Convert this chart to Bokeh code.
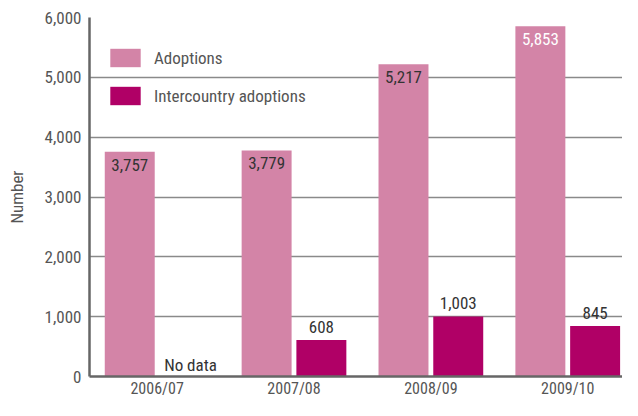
from bokeh.plotting import figure
from bokeh.models import ColumnDataSource, Legend, LegendItem, FixedTicker, NumeralTickFormatter, Range1d
from bokeh.core.properties import value
from bokeh.embed import file_html
from bokeh.resources import INLINE

years = ["2006/07", "2007/08", "2008/09", "2009/10"]
adoptions = [3757, 3779, 5217, 5853]
intercountry = [None, 608, 1003, 845]
y_ticks = [0, 1000, 2000, 3000, 4000, 5000, 6000]

FONT = "Roboto Condensed, Liberation Sans Narrow, DejaVu Sans Condensed, sans-serif"
FS = "17px"
C_ADOPT = "#D384A7"
C_INTER = "#B00066"
TEXT = "#555555"

idx = list(range(len(years)))
off = 0.2
bw = 0.365

src_a = ColumnDataSource(dict(
    x=[i - off for i in idx], top=adoptions,
    label=[f"{v:,}" for v in adoptions],
    color=["#333333" if v < max(adoptions) else "#ffffff" for v in adoptions],
))
ix = [i for i, v in zip(idx, intercountry) if v is not None]
iv = [v for v in intercountry if v is not None]
src_i = ColumnDataSource(dict(
    x=[i + off for i in ix], top=iv, label=[f"{v:,}" for v in iv],
))
nd = [i for i, v in zip(idx, intercountry) if v is None]
src_nd = ColumnDataSource(dict(x=[i + off for i in nd], y=[0] * len(nd), label=["No data"] * len(nd)))

p = figure(width=622, height=400, output_backend="svg", toolbar_location=None,
           x_range=Range1d(-0.494, 3.40), y_range=Range1d(0, 6000),
           min_border_left=89, min_border_right=0, min_border_top=17, min_border_bottom=0)
p.outline_line_color = None
p.background_fill_color = "white"
p.border_fill_color = "white"

r1 = p.vbar(x="x", top="top", width=bw, source=src_a, fill_color=C_ADOPT, line_color=None)
r2 = p.vbar(x="x", top="top", width=bw, source=src_i, fill_color=C_INTER, line_color=None)

p.text(x="x", y="top", text="label", source=src_a, text_align="center", text_baseline="top",
       y_offset=7, text_font=value(FONT), text_font_size=FS, text_color="color")
p.text(x="x", y="top", text="label", source=src_i, text_align="center", text_baseline="bottom",
       y_offset=-7, text_font=value(FONT), text_font_size=FS, text_color="#333333")
p.text(x="x", y="y", text="label", source=src_nd, text_align="center", text_baseline="bottom",
       x_offset=6, y_offset=-2, text_font=value(FONT), text_font_size=FS, text_color="#333333")

p.xgrid.grid_line_color = None
p.ygrid.ticker = FixedTicker(ticks=y_ticks)
p.ygrid.grid_line_color = "#8a8a8a"
p.ygrid.grid_line_width = 1.5

p.xaxis.ticker = FixedTicker(ticks=idx)
p.xaxis.major_label_overrides = {i: y for i, y in zip(idx, years)}
p.yaxis.ticker = FixedTicker(ticks=y_ticks)
p.yaxis.formatter = NumeralTickFormatter(format="0,0")
p.yaxis.axis_label = "Number"
for ax in (p.xaxis[0], p.yaxis[0]):
    ax.axis_line_color = "#666666"
    ax.axis_line_width = 2.5
    ax.major_tick_line_color = None
    ax.minor_tick_line_color = None
    ax.major_tick_out = 0
    ax.major_tick_in = 0
    ax.minor_tick_out = 0
    ax.minor_tick_in = 0
    ax.major_label_text_font = FONT
    ax.major_label_text_font_size = FS
    ax.major_label_text_color = TEXT
    ax.axis_label_text_font = FONT
    ax.axis_label_text_font_size = FS
    ax.axis_label_text_font_style = "normal"
    ax.axis_label_text_color = TEXT
p.xaxis.major_label_text_font_size = "16px"
p.xaxis.major_label_standoff = 2
p.yaxis.major_label_standoff = 8
p.yaxis.axis_label_standoff = 15

legend = Legend(items=[LegendItem(label="Adoptions", renderers=[r1]),
                       LegendItem(label="Intercountry adoptions", renderers=[r2])],
                location=(17, 269))
legend.glyph_width = 38
legend.glyph_height = 23
legend.label_standoff = 10
legend.spacing = 15
legend.padding = 0
legend.margin = 0
legend.border_line_alpha = 0
legend.background_fill_alpha = 0
legend.label_text_font = FONT
legend.label_text_font_size = FS
legend.label_text_color = TEXT
p.add_layout(legend)

open("out.html", "w").write(file_html(p, INLINE))
